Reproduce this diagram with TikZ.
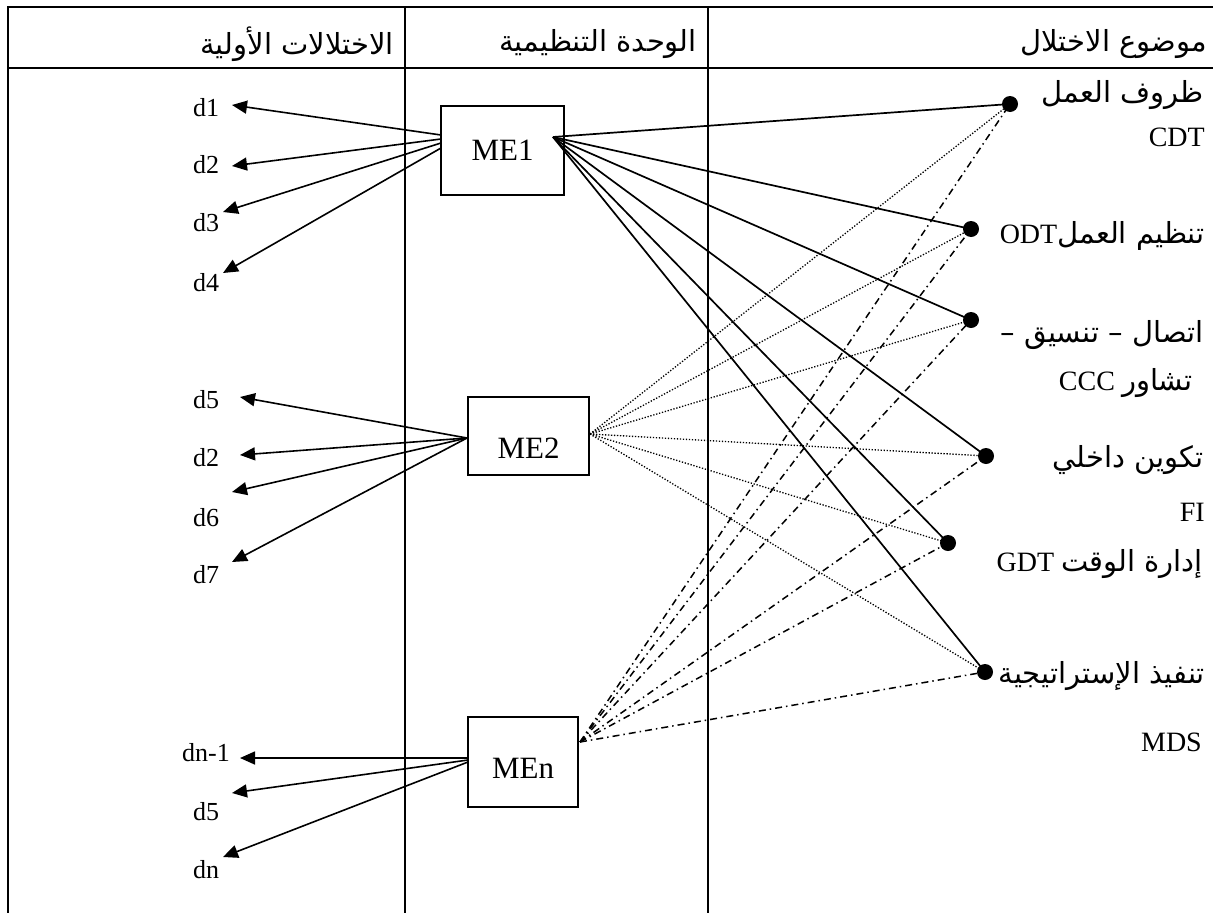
\documentclass[tikz,border=0pt]{standalone}
\usepackage{fontspec}
\setmainfont{Liberation Serif}
\newfontfamily\arabicfont[Script=Arabic]{DejaVu Sans}
\TeXXeTstate=1
\usetikzlibrary{arrows.meta}

\begin{document}
\begin{tikzpicture}[x=1pt,y=-1pt,
  frameline/.style={line width=2pt},
  unitbox/.style={draw, rectangle, line width=1.5pt, inner sep=0pt,
    font=\fontsize{31}{31}\selectfont},
  dlabel/.style={inner sep=0pt, font=\fontsize{26}{26}\selectfont},
  hdr/.style={inner sep=0pt, anchor=east, font=\arabicfont\fontsize{29}{29}\selectfont},
  arlabel/.style={inner sep=0pt, anchor=east, font=\arabicfont\fontsize{29}{29}\selectfont},
  latlabel/.style={inner sep=0pt, anchor=east, font=\fontsize{28}{28}\selectfont},
  enddot/.style={circle, fill=black, inner sep=0pt, minimum size=16pt},
  arrowlink/.style={line width=1.6pt, -{Triangle[length=15pt,width=13pt]}},
  solidlink/.style={line width=1.7pt},
  dotlink/.style={line width=1.3pt, dash pattern=on 1.3pt off 1.7pt},
  dashdotlink/.style={line width=1.5pt, dash pattern=on 7pt off 4pt on 1.5pt off 4pt}
]
\useasboundingbox (0,0) rectangle (1213,913);

% table frame
\draw[frameline] (1213,7) -- (8,7) -- (8,913);
\draw[frameline] (8,68) -- (1213,68);
\draw[frameline] (405,7) -- (405,913);
\draw[frameline] (708,7) -- (708,913);

% column headings
\node[hdr] (h1) at (394,44) {\beginR الاختلالات الأولية\endR};
\node[hdr] (h2) at (697,44) {\beginR الوحدة التنظيمية\endR};
\node[hdr] (h3) at (1207,44) {\beginR موضوع الاختلال\endR};

% organisational units
\node[unitbox, minimum width=123pt, minimum height=89pt] (me1) at (502.5,150.5) {ME1};
\node[unitbox, minimum width=121pt, minimum height=78pt, text height=44pt, text depth=0pt] (me2) at (528.5,436) {ME2};
\node[unitbox, minimum width=110pt, minimum height=90pt, text height=32pt, text depth=0pt] (men) at (523,762) {MEn};

% primary dysfunctions
\node[dlabel] (d1) at (206,108) {d1};
\node[dlabel] (d2) at (206,165) {d2};
\node[dlabel] (d3) at (206,223) {d3};
\node[dlabel] (d4) at (206,283) {d4};
\node[dlabel] (d5) at (206,400) {d5};
\node[dlabel] (d2b) at (206,458) {d2};
\node[dlabel] (d6) at (206,518) {d6};
\node[dlabel] (d7) at (206,575) {d7};
\node[dlabel] (dn1) at (206,753) {dn-1};
\node[dlabel] (d5b) at (206,812) {d5};
\node[dlabel] (dn) at (206,870) {dn};

% arrow tips beside the labels
\coordinate (t1) at (232,105);
\coordinate (t2) at (232,166);
\coordinate (t3) at (223,212);
\coordinate (t4) at (223,273);
\coordinate (t5) at (240,397);
\coordinate (t6) at (240,455);
\coordinate (t7) at (232,492);
\coordinate (t8) at (232,562);
\coordinate (t9) at (240,758);
\coordinate (t10) at (232,793);
\coordinate (t11) at (223,857);

% connector origins on the unit boxes
\coordinate (me1a) at (441,135);
\coordinate (me1b) at (441,139);
\coordinate (me1c) at (441,143);
\coordinate (me1d) at (441,148);
\coordinate (me2l) at (467,438);
\coordinate (mena) at (468,758);
\coordinate (menb) at (468,760);
\coordinate (menc) at (468,762);
\coordinate (me1r) at (553,137);
\coordinate (me2r) at (590,434);
\coordinate (menr) at (580,742);

% subjects of dysfunction
\node[enddot] (c1) at (1010,104) {};
\node[enddot] (c2) at (971,229) {};
\node[enddot] (c3) at (971,320) {};
\node[enddot] (c4) at (986,456) {};
\node[enddot] (c5) at (948,543) {};
\node[enddot] (c6) at (985,672) {};

\node[arlabel] (l1) at (1204,95) {\beginR ظروف العمل\endR};
\node[latlabel] (l1b) at (1205,137) {CDT};
\node[latlabel] (l2) at (1205,236) {\fontsize{28}{28}\selectfont ODT{\arabicfont\fontsize{29}{29}\selectfont\beginR تنظيم العمل\endR}};
\node[arlabel] (l3) at (1204,335) {\beginR اتصال – تنسيق –\endR};
\node[latlabel] (l4) at (1193,383) {CCC {\arabicfont\fontsize{29}{29}\selectfont\beginR تشاور\endR}};
\node[arlabel] (l5) at (1204,460) {\beginR تكوين داخلي\endR};
\node[latlabel] (l5b) at (1205,512) {FI};
\node[latlabel] (l6) at (1203,564) {GDT {\arabicfont\fontsize{29}{29}\selectfont\beginR إدارة الوقت\endR}};
\node[arlabel] (l7) at (1205,676) {\beginR تنفيذ الإستراتيجية\endR};
\node[latlabel] (l7b) at (1202,742) {MDS};

% unit -> primary dysfunctions
\draw[arrowlink] (me1a) -- (t1);
\draw[arrowlink] (me1b) -- (t2);
\draw[arrowlink] (me1c) -- (t3);
\draw[arrowlink] (me1d) -- (t4);
\draw[arrowlink] (me2l) -- (t5);
\draw[arrowlink] (me2l) -- (t6);
\draw[arrowlink] (me2l) -- (t7);
\draw[arrowlink] (me2l) -- (t8);
\draw[arrowlink] (mena) -- (t9);
\draw[arrowlink] (menb) -- (t10);
\draw[arrowlink] (menc) -- (t11);

% unit -> subjects
\foreach \c in {c1,c2,c3,c4,c5,c6}{
  \draw[solidlink] (me1r) -- (\c.center);
  \draw[dotlink] (me2r) -- (\c.center);
  \draw[dashdotlink] (menr) -- (\c.center);
}
\end{tikzpicture}
\end{document}
